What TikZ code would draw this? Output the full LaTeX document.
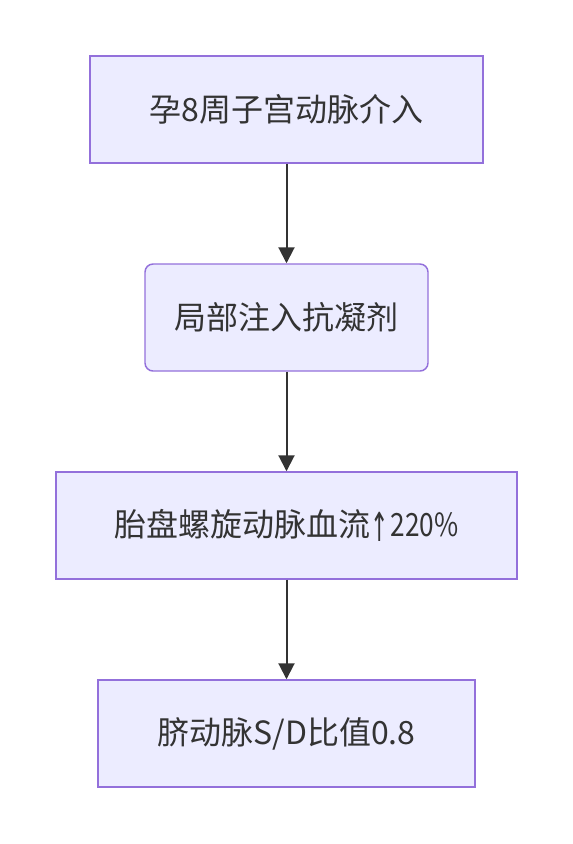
\documentclass[tikz,border=0pt]{standalone}
\usepackage{fontspec}
\setmainfont{Noto Sans CJK SC}
\newfontfamily\arrowfont{DejaVu Sans}
\usetikzlibrary{arrows.meta}
\definecolor{boxfill}{HTML}{ECECFF}
\definecolor{boxline}{HTML}{9370DB}
\definecolor{ink}{HTML}{333333}
\tikzset{
  px/.style={x=0.75pt,y=-0.75pt},
  flowbox/.style={draw=boxline,fill=boxfill,line width=1.1pt,inner sep=0pt,
    text=ink,font=\fontsize{24pt}{28pt}\selectfont},
  flowarrow/.style={draw=ink,line width=1.5pt,-{Triangle[length=12pt,width=12pt]}},
}
\newcommand{\uparr}{\raisebox{-0.18em}{\scalebox{0.55}[1]{\arrowfont\fontsize{30pt}{32pt}\selectfont ↑}}}
\begin{document}
\begin{tikzpicture}[px]
\useasboundingbox (0,0) rectangle (573,844);
\node[flowbox,minimum width=393*0.75pt,minimum height=107*0.75pt] (a) at (286.5,109.5) {孕8周子宫动脉介入};
\node[flowbox,rounded corners=6pt,minimum width=283*0.75pt,minimum height=107*0.75pt] (b) at (286.5,317.5) {局部注入抗凝剂};
\node[flowbox,minimum width=461*0.75pt,minimum height=107*0.75pt] (c) at (286.5,525.5) {胎盘螺旋动脉血流\uparr\hspace{1pt}\scalebox{0.82}[1]{220\%}};
\node[flowbox,minimum width=377*0.75pt,minimum height=107*0.75pt] (d) at (286.5,733.5) {脐动脉S/D比值0.8};
\draw[flowarrow] (a) -- (b);
\draw[flowarrow] (b) -- (c);
\draw[flowarrow] (c) -- (d);
\end{tikzpicture}
\end{document}
